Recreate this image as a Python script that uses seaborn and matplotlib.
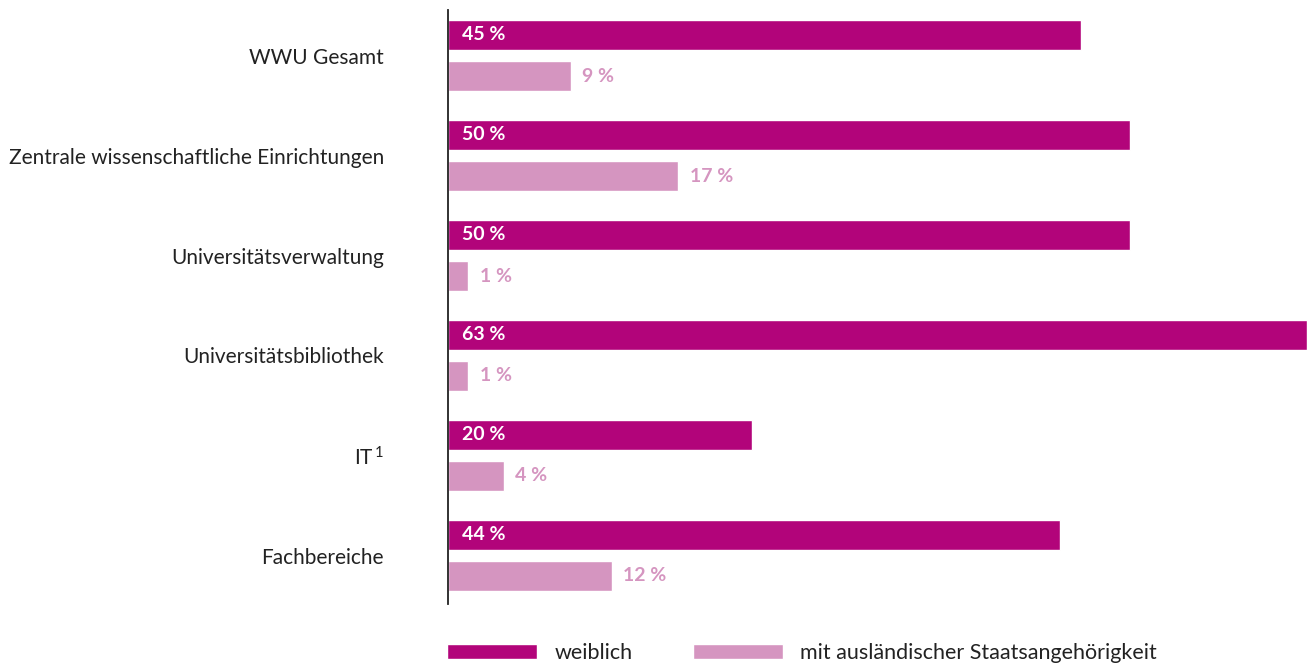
import matplotlib
matplotlib.use("Agg")
import matplotlib.pyplot as plt
import seaborn as sns
import pandas as pd

# categories and values (bar lengths, labels as printed)
categories = ["WWU Gesamt", "Zentrale wissenschaftliche Einrichtungen",
              "Universitätsverwaltung", "Universitätsbibliothek", "IT$^{\\,1}$", "Fachbereiche"]
weiblich = [46.4, 50.0, 50.0, 63.0, 22.3, 44.9]
auslaendisch = [9.0, 16.9, 1.5, 1.5, 4.1, 12.0]
weiblich_labels = ["45 %", "50 %", "50 %", "63 %", "20 %", "44 %"]
auslaendisch_labels = ["9 %", "17 %", "1 %", "1 %", "4 %", "12 %"]
series = ["weiblich", "mit ausländischer Staatsangehörigkeit"]

dark = "#B2047A"
light = "#D595C0"

df = pd.DataFrame({
    "Bereich": categories * 2,
    "Anteil": weiblich + auslaendisch,
    "Gruppe": [series[0]] * len(categories) + [series[1]] * len(categories),
})

sns.set_theme(style="white")
plt.rcParams["font.family"] = ["Lato", "DejaVu Sans"]
plt.rcParams["mathtext.fontset"] = "custom"
plt.rcParams["mathtext.rm"] = "Lato"
plt.rcParams["mathtext.default"] = "rm"

W, H = 1310, 666
fig = plt.figure(figsize=(W / 100, H / 100), dpi=100)
ax = fig.add_axes([448 / W, 1 - 604 / H, (1307 - 448) / W, (604 - 10) / H])

sns.barplot(data=df, y="Bereich", x="Anteil", hue="Gruppe", hue_order=series,
            palette=[dark, light], orient="h", width=0.82, gap=0.244,
            saturation=1, ax=ax, legend=True)

ax.set_xlim(0, 63)
ax.set_ylim(5.485, -0.455)
ax.set_xlabel("")
ax.set_ylabel("")
ax.set_xticks([])
for s in ["top", "right", "bottom"]:
    ax.spines[s].set_visible(False)
ax.spines["left"].set_color("#222222")
ax.spines["left"].set_linewidth(1.3)
ax.tick_params(axis="y", length=0, pad=46, labelsize=15, labelcolor="#222222")

# value labels
for i in range(len(categories)):
    ax.annotate(weiblich_labels[i], xy=(0, i - 0.205), xytext=(10, 0),
                textcoords="offset points", va="center", ha="left",
                color="white", fontsize=14, fontweight="bold")
    ax.annotate(auslaendisch_labels[i], xy=(auslaendisch[i], i + 0.205), xytext=(8, 0),
                textcoords="offset points", va="center", ha="left",
                color=light, fontsize=14, fontweight="bold")

ax.legend(loc="center left", bbox_to_anchor=(448 / W - 0.001, 1 - 653 / H),
          bbox_transform=fig.transFigure, ncol=2, frameon=False,
          fontsize=15.5, handlelength=4.2, handleheight=0.75,
          handletextpad=0.8, columnspacing=2.8, borderpad=0, borderaxespad=0,
          labelcolor="#222222")

fig.savefig("out.png", dpi=100)
